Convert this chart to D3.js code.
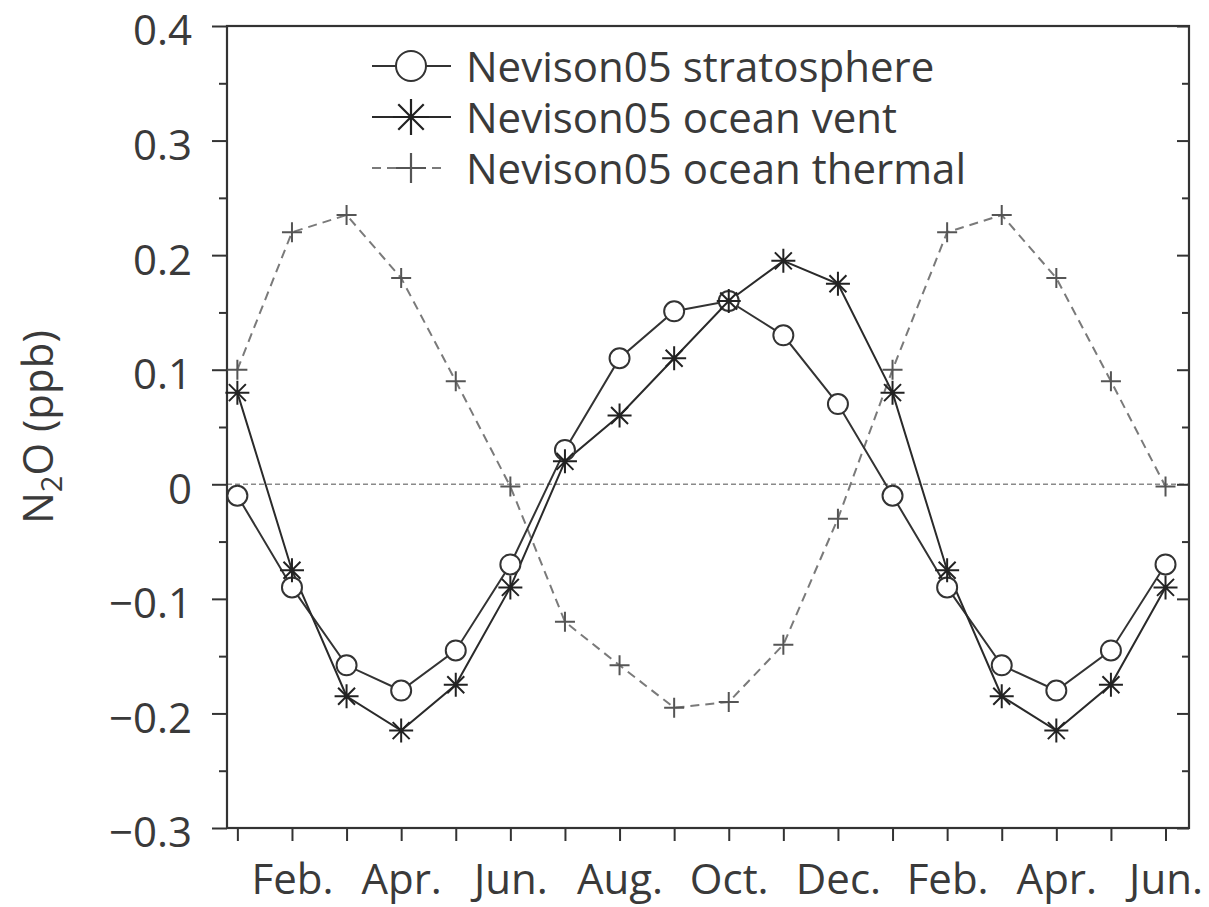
<!DOCTYPE html>
<html>
<head>
<meta charset="utf-8">
<script src="https://cdn.jsdelivr.net/npm/d3@7"></script>
<style>
  html, body { margin: 0; padding: 0; background: #fff; }
  svg { display: block; }
  text { font-family: "Open Sans", "Noto Sans", sans-serif; fill: #3a3a3a; }
</style>
</head>
<body>
<svg id="chart" width="1209" height="907"></svg>
<script>
// ---- data ----
const monthLabels = ["Jan.","Feb.","Mar.","Apr.","May","Jun.","Jul.","Aug.","Sep.","Oct.","Nov.","Dec.","Jan.","Feb.","Mar.","Apr.","May","Jun."];
const shownLabels = ["Feb.","Apr.","Jun.","Aug.","Oct.","Dec.","Feb.","Apr.","Jun."];
const stratosphere = [-0.01,-0.09,-0.158,-0.18,-0.145,-0.07,0.03,0.11,0.151,0.16,0.13,0.07,-0.01,-0.09,-0.158,-0.18,-0.145,-0.07];
const oceanVent = [0.08,-0.075,-0.185,-0.215,-0.175,-0.09,0.02,0.06,0.11,0.16,0.195,0.175,0.08,-0.075,-0.185,-0.215,-0.175,-0.09];
const oceanThermal = [0.10,0.22,0.235,0.18,0.09,-0.002,-0.12,-0.158,-0.195,-0.19,-0.14,-0.03,0.10,0.22,0.235,0.18,0.09,-0.002];
const yMajorTicks = [-0.3,-0.2,-0.1,0,0.1,0.2,0.3,0.4];
const yMinorTicks = [-0.25,-0.15,-0.05,0.05,0.15,0.25,0.35];
const yTickLabels = ["\u22120.3","\u22120.2","\u22120.1","0","0.1","0.2","0.3","0.4"];
const legendNames = ["Nevison05 stratosphere","Nevison05 ocean vent","Nevison05 ocean thermal"];

// ---- layout ----
const svg = d3.select("#chart");
const L = 227, R = 1189, T = 26, B = 828;
const x = d3.scaleLinear().domain([-0.19, 17.43]).range([L, R]);
const y = d3.scaleLinear().domain([-0.3, 0.4]).range([B, T]);
const idx = d3.range(monthLabels.length);

const axisColor = "#333";
const FS = 42;

// zero line
svg.append("line")
  .attr("x1", L).attr("x2", R).attr("y1", y(0)).attr("y2", y(0))
  .attr("stroke", "#8a8a8a").attr("stroke-width", 1.6).attr("stroke-dasharray", "5,3");

// axes
const gx = svg.append("g").attr("transform", `translate(0,${B})`)
  .call(d3.axisBottom(x).tickValues(idx).tickSize(13)
    .tickFormat(i => (i % 2 === 1 ? shownLabels[(i - 1) / 2] : "")));
gx.select(".domain").remove();
gx.selectAll(".tick line").attr("stroke", axisColor).attr("stroke-width", 2);
gx.selectAll(".tick text").attr("y", 66).attr("dy", 0)
  .style("font-size", FS + "px").style("font-family", "'Open Sans'").attr("fill", "#3a3a3a");

const gyl = svg.append("g").attr("transform", `translate(${L},0)`)
  .call(d3.axisLeft(y).tickValues(yMajorTicks).tickSize(15)
    .tickFormat((d, i) => yTickLabels[i]));
gyl.select(".domain").remove();
gyl.selectAll(".tick line").attr("stroke", axisColor).attr("stroke-width", 2);
gyl.selectAll(".tick text").attr("x", -35).attr("dy", "0.45em")
  .style("font-size", FS + "px").style("font-family", "'Open Sans'").attr("fill", "#3a3a3a");

const gylm = svg.append("g").attr("transform", `translate(${L},0)`)
  .call(d3.axisLeft(y).tickValues(yMinorTicks).tickSize(8).tickFormat(""));
gylm.select(".domain").remove();
gylm.selectAll(".tick line").attr("stroke", axisColor).attr("stroke-width", 2);

const gyr = svg.append("g").attr("transform", `translate(${R},0)`)
  .call(d3.axisRight(y).tickValues(yMajorTicks).tickSize(-12).tickFormat(""));
gyr.select(".domain").remove();
gyr.selectAll(".tick line").attr("stroke", axisColor).attr("stroke-width", 2);
const gyrm = svg.append("g").attr("transform", `translate(${R},0)`)
  .call(d3.axisRight(y).tickValues(yMinorTicks).tickSize(-7).tickFormat(""));
gyrm.select(".domain").remove();
gyrm.selectAll(".tick line").attr("stroke", axisColor).attr("stroke-width", 2);

// frame
svg.append("rect").attr("x", L).attr("y", T).attr("width", R - L).attr("height", B - T)
  .attr("fill", "none").attr("stroke", axisColor).attr("stroke-width", 2.2);

// y label
const yl = svg.append("text")
  .attr("transform", `translate(53,${(T + B) / 2}) rotate(-90)`)
  .attr("text-anchor", "middle")
  .style("font-size", FS + "px");
yl.append("tspan").text("N");
yl.append("tspan").attr("dy", 9).style("font-size", "29px").text("2");
yl.append("tspan").attr("dy", -9).text("O (ppb)");

// marker helpers
function drawCircle(g, cx, cy, r, sw) {
  g.append("circle").attr("cx", cx).attr("cy", cy).attr("r", r)
    .attr("fill", "#fff").attr("stroke", "#333").attr("stroke-width", sw);
}
function drawStar(g, cx, cy, s, sw) {
  const d = s / Math.SQRT2;
  const p = `M${cx - s},${cy}L${cx + s},${cy}M${cx},${cy - s}L${cx},${cy + s}` +
            `M${cx - d},${cy - d}L${cx + d},${cy + d}M${cx - d},${cy + d}L${cx + d},${cy - d}`;
  g.append("path").attr("d", p).attr("stroke", "#222").attr("stroke-width", sw).attr("fill", "none");
}
function drawPlus(g, cx, cy, s, sw) {
  g.append("path").attr("d", `M${cx - s},${cy}L${cx + s},${cy}M${cx},${cy - s}L${cx},${cy + s}`)
    .attr("stroke", "#555").attr("stroke-width", sw).attr("fill", "none");
}

const line = d3.line().x((d, i) => x(i)).y(d => y(d));

// thermal
svg.append("path").datum(oceanThermal).attr("d", line)
  .attr("fill", "none").attr("stroke", "#7a7a7a").attr("stroke-width", 2).attr("stroke-dasharray", "9,6");
const gT = svg.append("g");
oceanThermal.forEach((v, i) => drawPlus(gT, x(i), y(v), 10, 2));

// stratosphere
svg.append("path").datum(stratosphere).attr("d", line)
  .attr("fill", "none").attr("stroke", "#333").attr("stroke-width", 2);
// vent
svg.append("path").datum(oceanVent).attr("d", line)
  .attr("fill", "none").attr("stroke", "#2a2a2a").attr("stroke-width", 2);
const gS = svg.append("g");
stratosphere.forEach((v, i) => drawCircle(gS, x(i), y(v), 10, 2));
const gV = svg.append("g");
oceanVent.forEach((v, i) => drawStar(gV, x(i), y(v), 12, 2));

// legend
const lg = svg.append("g");
const rowsY = [66, 117, 168];
const lx1 = 372, lx2 = 451, lcx = 411;
lg.append("line").attr("x1", lx1).attr("x2", lx2).attr("y1", rowsY[0]).attr("y2", rowsY[0]).attr("stroke", "#333").attr("stroke-width", 2);
drawCircle(lg, lcx, rowsY[0], 15, 2);
lg.append("line").attr("x1", lx1).attr("x2", lx2).attr("y1", rowsY[1]).attr("y2", rowsY[1]).attr("stroke", "#2a2a2a").attr("stroke-width", 2);
drawStar(lg, lcx, rowsY[1], 18, 2.2);
lg.append("line").attr("x1", lx1).attr("x2", lx2 - 7).attr("y1", rowsY[2]).attr("y2", rowsY[2]).attr("stroke", "#7a7a7a").attr("stroke-width", 2).attr("stroke-dasharray", "9,6");
drawPlus(lg, lcx, rowsY[2], 15, 2.2);
legendNames.forEach((n, i) => {
  lg.append("text").attr("x", 466).attr("y", rowsY[i] + 16).style("font-size", FS + "px").text(n);
});
</script>
</body>
</html>
